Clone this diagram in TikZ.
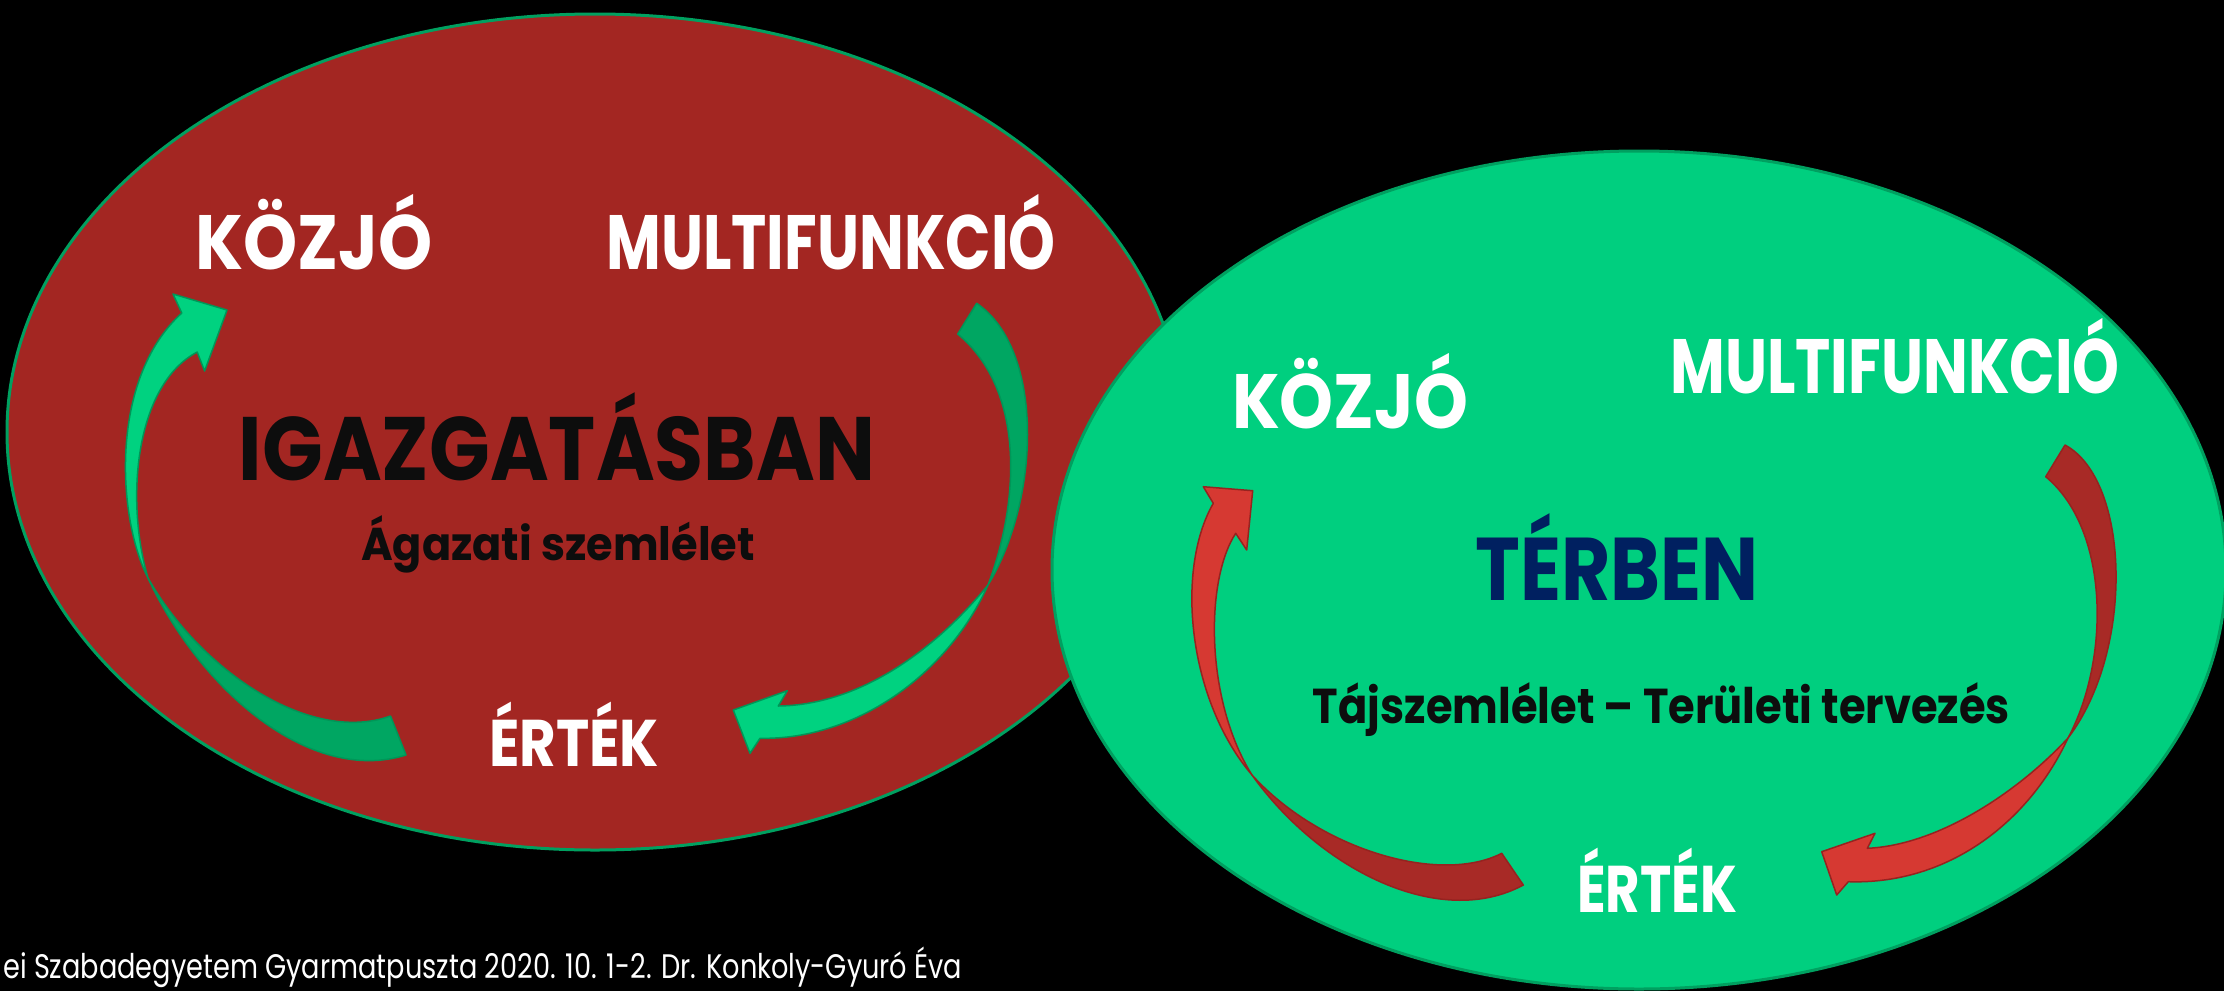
\documentclass[tikz,border=0pt]{standalone}
\usepackage{fontspec}
\usepackage{graphicx}
\usetikzlibrary{shapes.geometric}
\newfontfamily\pop{Poppins}
\definecolor{redfill}{RGB}{163,38,34}
\definecolor{greenfill}{RGB}{0,207,127}
\definecolor{greenline}{RGB}{0,160,96}
\definecolor{gLight}{RGB}{0,210,128}
\definecolor{gDark}{RGB}{0,166,98}
\definecolor{gEdge}{RGB}{0,150,88}
\definecolor{rLight}{RGB}{214,57,50}
\definecolor{rDark}{RGB}{168,42,38}
\definecolor{rEdge}{RGB}{150,35,32}
\definecolor{navy}{RGB}{0,32,96}
\definecolor{ink}{RGB}{13,13,13}
\newcommand\fitw[2]{\resizebox{#1pt}{\height}{#2}}
\tikzset{
  oval/.style={ellipse, draw=greenline, line width=3pt, inner sep=0pt},
  lbl/.style={anchor=base, inner sep=0pt, font=\pop\bfseries},
  garrowL/.style={fill=gLight, draw=gEdge, line width=1.5pt, line join=round},
  garrowD/.style={fill=gDark, draw=gEdge, line width=1.5pt, line join=round},
  rarrowL/.style={fill=rLight, draw=rEdge, line width=1.5pt, line join=round},
  rarrowD/.style={fill=rDark, draw=rEdge, line width=1.5pt, line join=round}
}
\begin{document}
\begin{tikzpicture}[x=1pt,y=-1pt]
\fill[black] (0,0) rectangle (2224,991);
\useasboundingbox (0,0) rectangle (2224,991);

% ---------- left ellipse ----------
\node[oval, fill=redfill, minimum width=1176pt, minimum height=836pt] (E1) at (595,432) {};

% left green arrow: tail part (dark)
\filldraw[garrowD] (148,578) .. controls (200,690) and (310,785) .. (406,755)
  -- (390.5,716) .. controls (310,745) and (200,670) .. (148,578) -- cycle;
% left green arrow: head part (light)
\filldraw[garrowL] (148,578) .. controls (118,520) and (108,380) .. (181.8,313)
  -- (173,294) -- (227,310) -- (204.6,371) -- (197.2,352)
  .. controls (135,385) and (125,500) .. (148,578) -- cycle;

% right green arrow: tail part (dark)
\filldraw[garrowD] (976.7,303.3) .. controls (1045,350) and (1040,500) .. (988,585)
  .. controls (1020,500) and (1025,390) .. (957.7,334) -- cycle;
% right green arrow: head part (light)
\filldraw[garrowL] (988,585) .. controls (950,670) and (860,740) .. (760,738.3)
  -- (750,753.3) -- (733.3,710) -- (787.3,690.7) -- (778.3,706)
  .. controls (860,705) and (935,650) .. (988,585) -- cycle;

\node[lbl, text=white] (k1) at (314,269) {\fontsize{77}{80}\selectfont\fitw{237}{KÖZJÓ}};
\node[lbl, text=white] (m1) at (831,269) {\fontsize{77}{80}\selectfont\fitw{449}{MULTIFUNKCIÓ}};
\node[lbl, text=ink] (ig) at (557,480) {\fontsize{90}{94}\selectfont\fitw{636}{IGAZGATÁSBAN}};
\node[lbl, text=ink] (ag) at (558,560) {\fontsize{46}{50}\selectfont\fitw{394}{Ágazati szemlélet}};
\node[lbl, text=white] (e1) at (574,766) {\fontsize{66}{70}\selectfont\fitw{170}{ÉRTÉK}};

% ---------- right ellipse ----------
\node[oval, fill=greenfill, minimum width=1174pt, minimum height=838pt] (E2) at (1639,570) {};

% left red arrow: tail part (dark)
\filldraw[rarrowD] (1252,775) .. controls (1320,870) and (1440,930) .. (1523.3,885)
  -- (1501.7,853.3) .. controls (1440,885) and (1320,850) .. (1252,775) -- cycle;
% left red arrow: head part (light)
\filldraw[rarrowL] (1252,775) .. controls (1188,700) and (1175,570) .. (1213.3,503.3)
  -- (1203.3,486.7) -- (1252.7,490.7) -- (1246.7,550) -- (1235.7,533.3)
  .. controls (1205,580) and (1205,700) .. (1252,775) -- cycle;

% right red arrow: tail part (dark)
\filldraw[rarrowD] (2065,445) .. controls (2130,480) and (2135,650) .. (2068,738)
  .. controls (2110,660) and (2110,530) .. (2045.7,476.7) -- cycle;
% right red arrow: head part (light)
\filldraw[rarrowL] (2068,738) .. controls (2030,820) and (1950,885) .. (1848.3,881.7)
  -- (1836.7,895) -- (1821.7,851.7) -- (1875,833.3) -- (1867.3,848.3)
  .. controls (1940,845) and (2020,790) .. (2068,738) -- cycle;

\node[lbl, text=white] (k2) at (1350,428) {\fontsize{77}{80}\selectfont\fitw{236}{KÖZJÓ}};
\node[lbl, text=white] (m2) at (1895,393) {\fontsize{77}{80}\selectfont\fitw{449}{MULTIFUNKCIÓ}};
\node[lbl, text=navy] (tb) at (1617,600) {\fontsize{89}{92}\selectfont\fitw{283}{TÉRBEN}};
\node[lbl, text=ink] (tj) at (1661.5,723) {\fontsize{49}{52}\selectfont\fitw{697}{Tájszemlélet – Területi tervezés}};
\node[lbl, text=white] (e2) at (1657,912) {\fontsize{66}{70}\selectfont\fitw{160}{ÉRTÉK}};

% ---------- footer ----------
\node[anchor=base west, inner sep=0pt, text=white, font=\pop] (ft) at (3,978)
  {\fontsize{34}{36}\selectfont\fitw{959}{ei Szabadegyetem Gyarmatpuszta 2020. 10. 1-2. Dr. Konkoly-Gyuró Éva}};
\end{tikzpicture}
\end{document}
